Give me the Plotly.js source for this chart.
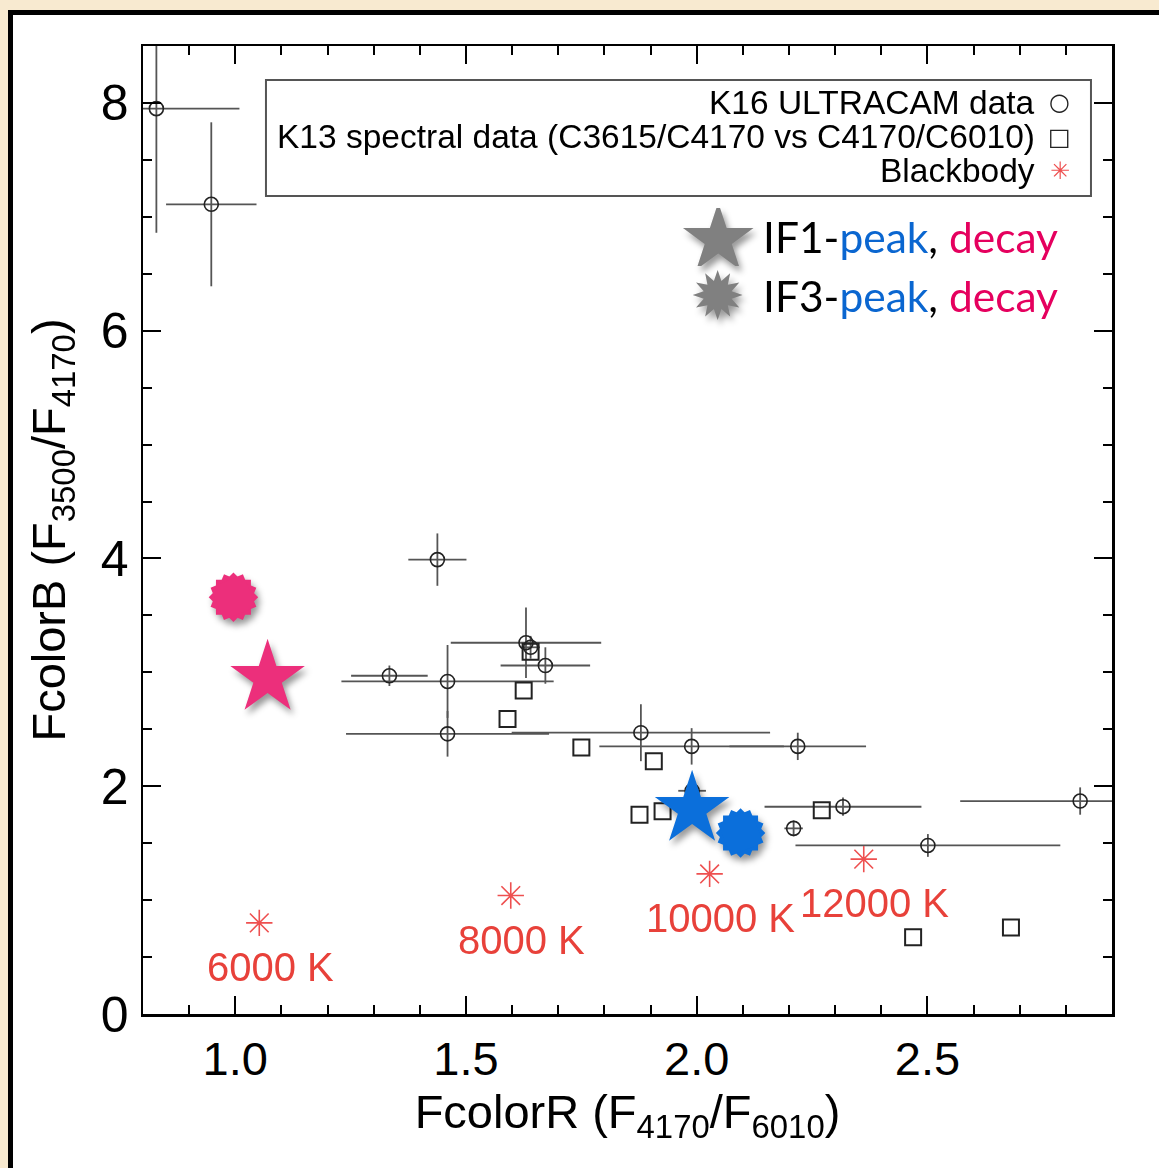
<!DOCTYPE html>
<html>
<head>
<meta charset="utf-8">
<script src="https://cdn.plot.ly/plotly-3.0.1.min.js"></script>
<style>
html,body{margin:0;padding:0;background:#F8EAD0;overflow:hidden;width:1159px;height:1168px;}
#frame{position:absolute;left:8px;top:10px;width:1300px;height:1300px;background:#fff;border-left:5px solid #000;border-top:5px solid #000;}
#chart{position:absolute;left:0;top:0;width:1159px;height:1168px;}
</style>
</head>
<body>
<div id="frame"></div>
<div id="chart"></div>
<script>
// K16 ULTRACAM data (circles with error bars)
const k16X    = [0.829, 0.948, 1.438, 1.334, 1.460, 1.460, 1.630, 1.640, 1.672, 1.879, 1.989, 2.219, 1.990, 2.317, 2.210, 2.501, 2.831];
const k16Y    = [7.95, 7.11, 3.99, 2.97, 2.92, 2.46, 3.26, 3.22, 3.06, 2.47, 2.35, 2.35, 1.96, 1.82, 1.63, 1.48, 1.87];
const k16Xerr = [0.18, 0.098, 0.063, 0.083, 0.23, 0.22, 0.163, 0.02, 0.097, 0.28, 0.20, 0.148, 0.03, 0.17, 0.02, 0.287, 0.26];
const k16Yerr = [1.09, 0.72, 0.23, 0.09, 0.32, 0.20, 0.31, 0.10, 0.16, 0.25, 0.16, 0.12, 0.08, 0.08, 0.07, 0.10, 0.12];

// K13 spectral data (squares)
const k13X = [1.640, 1.625, 1.590, 1.750, 1.907, 1.876, 1.926, 2.271, 2.469, 2.681];
const k13Y = [3.18, 2.84, 2.59, 2.34, 2.22, 1.75, 1.78, 1.79, 0.675, 0.76];

// Blackbody (red asterisks) and their temperature labels
const bbX = [1.052, 1.597, 2.028, 2.362];
const bbY = [0.80, 1.04, 1.23, 1.36];
const bbLabels = ['6000 K', '8000 K', '10000 K', '12000 K'];

// IF1 (stars) and IF3 (starbursts): peak (blue) and decay (pink)
const if1X = [1.99, 1.07];
const if1Y = [1.80, 2.95];
const if3X = [2.095, 0.996];
const if3Y = [1.59, 3.66];
const phaseColors = ['#0B6FDB', '#EC2F7B'];

// tick labels
const xTickVals = [1.0, 1.5, 2.0, 2.5];
const xTickText = ['1.0', '1.5', '2.0', '2.5'];
const yTickVals = [0, 2, 4, 6, 8];
const yTickText = ['0', '2', '4', '6', '8'];

const FONT = 'Liberation Sans, Arial, Helvetica, sans-serif';
const BB_RED = '#E8413A';

const traces = [];
traces.push({
  x: k16X, y: k16Y, type: 'scatter', mode: 'markers', name: 'K16 ULTRACAM data',
  marker: {symbol: 'circle-open', size: 14, color: '#222', line: {width: 1.6, color: '#222'}},
  error_x: {type: 'data', array: k16Xerr, visible: true, color: '#555', thickness: 1.8, width: 0},
  error_y: {type: 'data', array: k16Yerr, visible: true, color: '#555', thickness: 1.8, width: 0},
  cliponaxis: true
});
traces.push({
  x: k13X, y: k13Y, type: 'scatter', mode: 'markers', name: 'K13 spectral data',
  marker: {symbol: 'square-open', size: 16, color: '#222', line: {width: 2, color: '#222'}}
});
traces.push({
  x: bbX, y: bbY, type: 'scatter', mode: 'markers', name: 'Blackbody',
  marker: {symbol: 'asterisk-open', size: 22, color: '#EE5050', line: {width: 1.6, color: '#EE5050'}}
});
// IF1 stars
traces.push({
  x: if1X, y: if1Y, type: 'scatter', mode: 'markers', name: 'IF1',
  marker: {symbol: 'star', size: 56, color: phaseColors, line: {width: 0}}
});
// IF3 starbursts: four rotated squares
[0, 22.5, 45, 67.5].forEach(function (a) {
  traces.push({
    x: if3X, y: if3Y, type: 'scatter', mode: 'markers', name: 'IF3',
    marker: {symbol: 'square', size: 35, angle: a, color: phaseColors, line: {width: 0}}
  });
});

const annotations = [];
for (let i = 0; i < bbX.length; i++) {
  annotations.push({
    x: bbX[i], y: bbY[i], xref: 'x', yref: 'y', text: bbLabels[i], showarrow: false,
    xshift: 11, yshift: -44, font: {family: FONT, size: 40, color: BB_RED}
  });
}
// legend box texts
const legTexts = ['K16 ULTRACAM data', 'K13 spectral data (C3615/C4170 vs C4170/C6010)', 'Blackbody'];
const legY = [0.9421, 0.906, 0.8709];
const legSyms = ['○', '□', '✳'];
const legSymColors = ['#222', '#222', '#EE5050'];
for (let i = 0; i < 3; i++) {
  annotations.push({
    x: 0.9226, y: legY[i], xref: 'paper', yref: 'paper', xanchor: 'right', yanchor: 'middle',
    text: legTexts[i], showarrow: false, font: {family: FONT, size: 33.5, color: '#000'}
  });
  annotations.push({
    x: 0.9463, y: legY[i], xref: 'paper', yref: 'paper', xanchor: 'center', yanchor: 'middle',
    text: legSyms[i], showarrow: false, height: 30, font: {family: 'DejaVu Sans', size: 24, color: legSymColors[i]}
  });
}
// IF legend
const ifKeyText = ['IF1-<span style="color:#0A66D0">peak</span>, <span style="color:#E5005E">decay</span>',
                   'IF3-<span style="color:#0A66D0">peak</span>, <span style="color:#E5005E">decay</span>'];
const ifKeyY = [0.803, 0.742];
const ifKeySym = ['★', '✹'];
const ifKeySymSize = [92, 66];
const ifKeySymH = [58, 56];
for (let i = 0; i < 2; i++) {
  annotations.push({
    x: 0.638, y: ifKeyY[i], xref: 'paper', yref: 'paper', xanchor: 'left', yanchor: 'middle',
    text: ifKeyText[i], showarrow: false, font: {family: 'Lato, Open Sans, sans-serif', size: 42.5, color: '#000'}
  });
  annotations.push({
    x: 0.593, y: ifKeyY[i], xref: 'paper', yref: 'paper', xanchor: 'center', yanchor: 'middle',
    text: ifKeySym[i], showarrow: false, height: ifKeySymH[i],
    font: {family: 'DejaVu Sans', size: ifKeySymSize[i], color: '#808080'}
  });
}

const axisCommon = {
  ticks: 'inside', ticklen: 18, tickwidth: 2, tickcolor: '#000',
  showline: true, linewidth: 2.5, linecolor: '#000', mirror: 'ticks',
  showgrid: false, zeroline: false, tickmode: 'array'
};

const layout = {
  width: 1159, height: 1168,
  paper_bgcolor: 'rgba(0,0,0,0)', plot_bgcolor: 'rgba(0,0,0,0)',
  margin: {l: 143, r: 47, t: 46, b: 154},
  showlegend: false,
  font: {family: FONT, color: '#000'},
  xaxis: Object.assign({}, axisCommon, {
    range: [0.8, 2.9], tickvals: xTickVals, ticktext: xTickText, ticklabelstandoff: 2,
    tickfont: {family: FONT, size: 47, color: '#000'},
    minor: {dtick: 0.1, tick0: 0, ticks: 'inside', ticklen: 9, tickwidth: 2, tickcolor: '#000', showgrid: false},
    title: {text: 'FcolorR (F<sub>4170</sub>/F<sub>6010</sub>)', font: {family: FONT, size: 47, color: '#000'}, standoff: 6}
  }),
  yaxis: Object.assign({}, axisCommon, {
    range: [0, 8.5], tickvals: yTickVals, ticktext: yTickText, ticklabelstandoff: 2,
    tickfont: {family: FONT, size: 50, color: '#000'},
    minor: {dtick: 0.5, tick0: 0, ticks: 'inside', ticklen: 9, tickwidth: 2, tickcolor: '#000', showgrid: false},
    title: {text: 'FcolorB (F<sub>3500</sub>/F<sub>4170</sub>)', font: {family: FONT, size: 47, color: '#000'}, standoff: 20}
  }),
  shapes: [{
    type: 'rect', xref: 'paper', yref: 'paper', x0: 0.1269, x1: 0.9783, y0: 0.845, y1: 0.965,
    line: {color: '#555', width: 2}, fillcolor: 'rgba(0,0,0,0)'
  }],
  annotations: annotations
};

Plotly.newPlot('chart', traces, layout, {displayModeBar: false, staticPlot: true}).then(function () {
  const shadow = 'drop-shadow(3px 5px 3px rgba(0,0,0,0.4))';
  const tr = document.querySelectorAll('.scatterlayer .trace');
  if (tr.length >= 8) {
    tr[3].style.filter = shadow;
    const parent = tr[4].parentNode;
    const g = document.createElementNS('http://www.w3.org/2000/svg', 'g');
    parent.insertBefore(g, tr[4]);
    for (let i = 4; i < 8; i++) g.appendChild(tr[i]);
    g.style.filter = shadow;
  }
  const ann = document.querySelectorAll('.annotation');
  ann.forEach(function (a) {
    const t = a.textContent;
    if (t === '★' || t === '✹') a.style.filter = shadow;
  });
});
</script>
</body>
</html>
